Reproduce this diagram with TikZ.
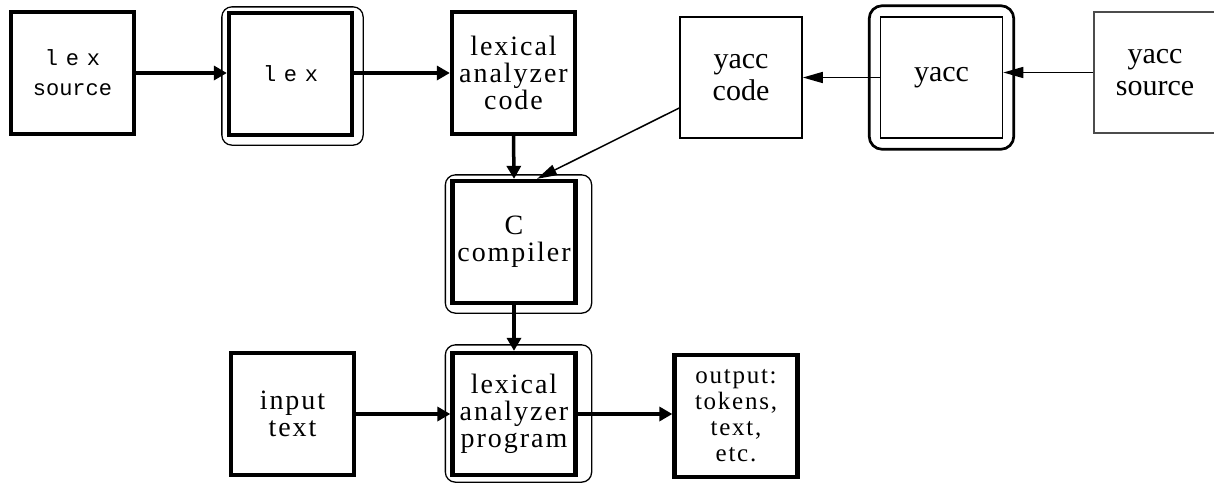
\documentclass[tikz,border=0pt]{standalone}
\usepackage{fontspec}
\setmainfont{Liberation Serif}
\newfontfamily\bitserif[LetterSpace=7]{Liberation Serif}
\newfontfamily\lexmono{Liberation Mono}
\newfontfamily\lexwide[LetterSpace=35]{Liberation Mono}
\usetikzlibrary{arrows.meta}

\tikzset{
  thickbox/.style={draw, line width=4.3pt, minimum width=123pt, minimum height=122pt,
    inner sep=0pt, align=center, font=\bitserif\fontsize{28}{27}\selectfont},
  thinbox/.style={draw, line width=1.6pt, minimum width=122pt, minimum height=121pt,
    inner sep=0pt, align=center, font=\fontsize{30}{32}\selectfont},
  frame/.style={draw, line width=1.3pt, rounded corners=10pt},
  yframe/.style={draw, line width=2.7pt, rounded corners=13pt},
  thickarrow/.style={line width=3.5pt, -{Triangle[length=13pt,width=14pt]}},
  thinarrow/.style={line width=1.5pt, -{Triangle[length=20pt,width=11pt]}},
}

\begin{document}
\begin{tikzpicture}[x=1pt,y=-1pt]
\useasboundingbox[fill=white] (0,0) rectangle (1214,483);

% lex pipeline, top row
\node[thickbox, font=\lexmono\fontsize{22}{30}\selectfont] (lexsrc) at (72.5,73)
  {{\lexwide lex}\\source};
\node[thickbox, font=\lexwide\fontsize{22}{30}\selectfont] (lex) at (290.5,74) {lex};
\node[thickbox] (code) at (513.5,73) {lexical\\analyzer\\code};

% compiler and generated analyzer
\node[thickbox] (cc) at (514,242) {C\\compiler};
\node[thickbox] (prog) at (514,414) {lexical\\analyzer\\program};
\node[thickbox] (input) at (292.5,414) {input\\text};
\node[thickbox, font=\bitserif\fontsize{25}{26}\selectfont] (output) at (736,416)
  {output:\\tokens,\\text,\\etc.};

% yacc pipeline, top right
\node[thinbox] (ycode) at (741,77.5) {yacc\\code};
\node[thinbox] (yacc) at (941.5,77.5) {yacc};
\node[thinbox, draw=black!70, line width=1.3pt] (ysrc) at (1155,72.5) {yacc\\source};

% rounded frames around the tools
\draw[frame] ([shift={(-5pt,4pt)}]lex.north west) rectangle ([shift={(9pt,-8pt)}]lex.south east);
\draw[frame] ([shift={(-5pt,4pt)}]cc.north west) rectangle ([shift={(14pt,-8pt)}]cc.south east);
\draw[frame] ([shift={(-5pt,6pt)}]prog.north west) rectangle ([shift={(14pt,-5pt)}]prog.south east);
\draw[yframe] ([shift={(-10.5pt,10.5pt)}]yacc.north west) rectangle ([shift={(10.5pt,-10.5pt)}]yacc.south east);

% connectors
\draw[thickarrow] (lexsrc.east) -- (lex.west |- lexsrc.east);
\draw[thickarrow] (lex.east |- lexsrc.east) -- (code.west |- lexsrc.east);
\draw[thickarrow] (code.south) -- (cc.north);
\draw[thickarrow] (cc.south) -- (prog.north);
\draw[thickarrow] (input.east) -- (prog.west);
\draw[thickarrow] (prog.east) -- (output.west |- prog.east);

\draw[thinarrow] (ysrc.west) -- (yacc.east |- ysrc.west);
\draw[thinarrow] (yacc.west) -- (ycode.east);
\draw[thinarrow] ([yshift=-30.5pt]ycode.west) -- ([xshift=23pt]cc.north);
\end{tikzpicture}
\end{document}
